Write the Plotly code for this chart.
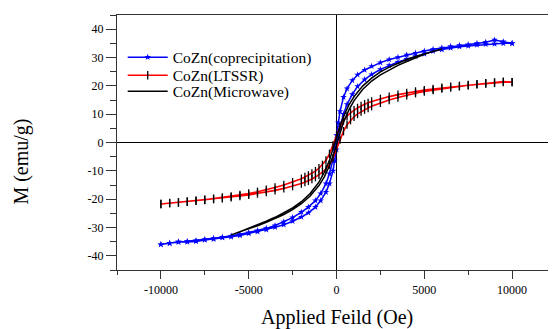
import plotly.graph_objects as go

# ---- data ----
# CoZn(coprecipitation): descending branch then ascending branch
cop_H_down = [10000, 9500, 9000, 8500, 8000, 7500, 7000, 6500, 6000, 5500, 5000, 4500, 4000, 3500,
              3000, 2500, 2000, 1600, 1200, 900, 600, 400, 200, 100, 0, -100, -200, -400, -600,
              -900, -1200, -1600, -2000, -2500, -3000, -3500, -4000, -4500, -5000, -5500, -6000,
              -6500, -7000, -7500, -8000, -8500, -9000, -9500, -10000]
cop_M_down = [35.0, 35.6, 36.2, 35.4, 35.0, 34.6, 34.3, 33.9, 33.4, 32.9, 32.3, 31.6, 30.9, 30.1,
              29.3, 28.2, 26.9, 25.6, 23.9, 21.9, 19.0, 16.0, 11.0, 7.0, 2.5, -2.0, -6.0, -11.0, -14.5,
              -18.0, -20.5, -22.8, -24.6, -26.5, -28.0, -29.3, -30.3, -31.1, -31.8, -32.4, -33.0,
              -33.4, -33.8, -34.2, -34.6, -34.9, -35.2, -35.5, -36.0]
cop_H_up = [-10000, -9500, -9000, -8500, -8000, -7500, -7000, -6500, -6000, -5500, -5000, -4500,
            -4000, -3500, -3000, -2500, -2000, -1600, -1200, -900, -600, -400, -200, -100, 0, 100,
            200, 400, 600, 900, 1200, 1600, 2000, 2500, 3000, 3500, 4000, 4500, 5000, 5500, 6000,
            6500, 7000, 7500, 8000, 8500, 9000, 9500, 10000]
cop_M_up = [-36.0, -35.6, -35.0, -35.1, -34.9, -34.4, -34.1, -33.6, -33.3, -32.8, -32.1, -31.5,
            -30.8, -29.9, -29.0, -27.8, -26.3, -24.8, -22.8, -20.5, -17.5, -14.5, -10.0, -6.5, -2.5,
            1.5, 5.5, 10.0, 13.5, 17.0, 19.8, 22.2, 24.0, 25.8, 27.2, 28.4, 29.4, 30.4, 31.3, 32.2,
            32.8, 33.4, 33.8, 34.1, 34.4, 34.7, 34.8, 35.0, 35.0]

# CoZn(LTSSR)
lt_H_down = [10000, 9500, 9000, 8500, 8000, 7500, 7000, 6500, 6000, 5500, 5000, 4500, 4000, 3500,
             3000, 2500, 2000, 1800, 1600, 1400, 1200, 1000, 800, 600, 400, 200, 0, -200, -400,
             -600, -800, -1000, -1200, -1400, -1600, -1800, -2000, -2500, -3000, -3500, -4000,
             -4500, -5000, -5500, -6000, -6500, -7000, -7500, -8000, -8500, -9000, -9500, -10000]
lt_M_down = [21.3, 21.5, 21.2, 20.9, 20.6, 20.3, 20.0, 19.7, 19.3, 18.9, 18.5, 18.0, 17.5, 16.9,
             16.2, 15.4, 14.5, 14.0, 13.5, 12.9, 12.2, 11.4, 10.5, 9.3, 7.8, 5.5, 2.5, -1.0, -4.0,
             -6.3, -7.9, -9.1, -10.1, -10.9, -11.6, -12.2, -12.8, -14.0, -15.0, -15.9, -16.7,
             -17.4, -18.0, -18.5, -19.0, -19.4, -19.8, -20.2, -20.5, -20.8, -21.1, -21.3, -21.7]
lt_H_up = [-10000, -9500, -9000, -8500, -8000, -7500, -7000, -6500, -6000, -5500, -5000, -4500,
           -4000, -3500, -3000, -2500, -2000, -1800, -1600, -1400, -1200, -1000, -800, -600, -400,
           -200, 0, 200, 400, 600, 800, 1000, 1200, 1400, 1600, 1800, 2000, 2500, 3000, 3500, 4000,
           4500, 5000, 5500, 6000, 6500, 7000, 7500, 8000, 8500, 9000, 9500, 10000]
lt_M_up = [-21.7, -21.5, -21.2, -20.9, -20.6, -20.3, -20.0, -19.7, -19.3, -18.9, -18.5, -18.0,
           -17.5, -16.9, -16.2, -15.4, -14.5, -14.0, -13.5, -12.9, -12.2, -11.4, -10.5, -9.3, -7.8,
           -5.5, -2.5, 1.0, 4.0, 6.3, 7.9, 9.1, 10.1, 10.9, 11.6, 12.2, 12.8, 14.0, 15.0, 15.9, 16.7,
           17.4, 18.0, 18.5, 19.0, 19.4, 19.8, 20.2, 20.5, 20.8, 21.1, 21.3, 21.3]

# CoZn(Microwave)
mw_H_down = [6000, 5500, 5000, 4500, 4000, 3500, 3000, 2500, 2000, 1500, 1000, 700, 400, 200, 0,
             -200, -400, -700, -1000, -1500, -2000, -2500, -3000, -3500, -4000, -4500, -5000,
             -5500, -6000]
mw_M_down = [33.0, 32.2, 31.3, 30.4, 29.3, 28.0, 26.6, 24.9, 22.7, 20.0, 16.2, 13.2, 9.2, 5.8,
             1.8, -2.5, -6.3, -10.6, -14.0, -18.0, -20.9, -23.1, -24.9, -26.4, -27.8, -29.1,
             -30.3, -31.5, -32.6]
mw_H_up = [-6000, -5500, -5000, -4500, -4000, -3500, -3000, -2500, -2000, -1500, -1000, -700,
           -400, -200, 0, 200, 400, 700, 1000, 1500, 2000, 2500, 3000, 3500, 4000, 4500, 5000,
           5500, 6000]
mw_M_up = [-32.6, -31.6, -30.5, -29.4, -28.2, -26.9, -25.4, -23.7, -21.6, -18.9, -15.2, -12.2,
           -8.2, -4.8, -0.8, 3.5, 7.2, 11.4, 14.8, 18.8, 21.7, 23.9, 25.7, 27.2, 28.6, 29.9, 31.1,
           32.2, 33.0]

x_tick_vals = [-10000, -5000, 0, 5000, 10000]
x_tick_text = ["-10000", "-5000", "0", "5000", "10000"]
y_tick_vals = [-40, -30, -20, -10, 0, 10, 20, 30, 40]
y_tick_text = ["-40", "-30", "-20", "-10", "0", "10", "20", "30", "40"]

SERIF = "Liberation Serif"

fig = go.Figure()
fig.add_trace(go.Scatter(
    x=cop_H_down + cop_H_up, y=cop_M_down + cop_M_up,
    mode="lines+markers", name="CoZn(coprecipitation)", legend="legend",
    line=dict(color="#0000ff", width=1.5),
    marker=dict(symbol="star", size=5, color="#0000ff", line=dict(width=0)),
))
fig.add_trace(go.Scatter(
    x=lt_H_down + lt_H_up, y=lt_M_down + lt_M_up,
    mode="lines+markers", name="CoZn(LTSSR)", legend="legend2",
    line=dict(color="#ff0000", width=1.6),
    marker=dict(symbol="line-ns", size=6, color="#000000", line=dict(width=1.3, color="#000000")),
))
fig.add_trace(go.Scatter(
    x=mw_H_down + mw_H_up, y=mw_M_down + mw_M_up,
    mode="lines", name="CoZn(Microwave)", legend="legend3",
    line=dict(color="#000000", width=1.5),
))

leg_common = dict(x=0.013, xanchor="left", yanchor="middle", bgcolor="rgba(0,0,0,0)",
                  font=dict(size=15.5, family=SERIF), itemwidth=40)

fig.update_layout(
    width=548, height=321,
    margin=dict(l=109, r=0, t=7, b=59, autoexpand=False),
    paper_bgcolor="white", plot_bgcolor="white",
    font=dict(family=SERIF, color="#000000"),
    showlegend=True,
    legend=dict(y=0.833, **leg_common),
    legend2=dict(y=0.762, **leg_common),
    legend3=dict(y=0.699, **leg_common),
    xaxis=dict(
        range=[-12500, 12500], showgrid=False, automargin=False,
        showline=True, linecolor="#333333", linewidth=1.3, mirror=True,
        zeroline=True, zerolinecolor="#000000", zerolinewidth=1,
        ticks="outside", ticklen=8, tickwidth=1, tickcolor="#333333",
        tickvals=x_tick_vals, ticktext=x_tick_text,
        tickfont=dict(size=12, family=SERIF),
        minor=dict(ticks="outside", ticklen=4, tickwidth=1, tickcolor="#333333", dtick=2500, tick0=0),
    ),
    yaxis=dict(
        range=[-45, 45], showgrid=False, automargin=False,
        showline=True, linecolor="#333333", linewidth=1.3, mirror=False,
        zeroline=True, zerolinecolor="#000000", zerolinewidth=1,
        ticks="outside", ticklen=10, tickwidth=1, tickcolor="#333333",
        tickvals=y_tick_vals, ticktext=y_tick_text,
        tickfont=dict(size=12, family=SERIF),
        minor=dict(ticks="outside", ticklen=6, tickwidth=1, tickcolor="#333333", dtick=5, tick0=0),
    ),
    annotations=[
        dict(text="Applied Feild (Oe)", xref="paper", yref="paper", x=0.5, y=-0.188,
             xanchor="center", yanchor="middle", showarrow=False,
             font=dict(size=20, family=SERIF)),
        dict(text="M (emu/g)", xref="paper", yref="paper", x=-0.217, y=0.424,
             xanchor="center", yanchor="middle", showarrow=False, textangle=-90,
             font=dict(size=20, family=SERIF)),
    ],
)

fig.write_html("out.html")
